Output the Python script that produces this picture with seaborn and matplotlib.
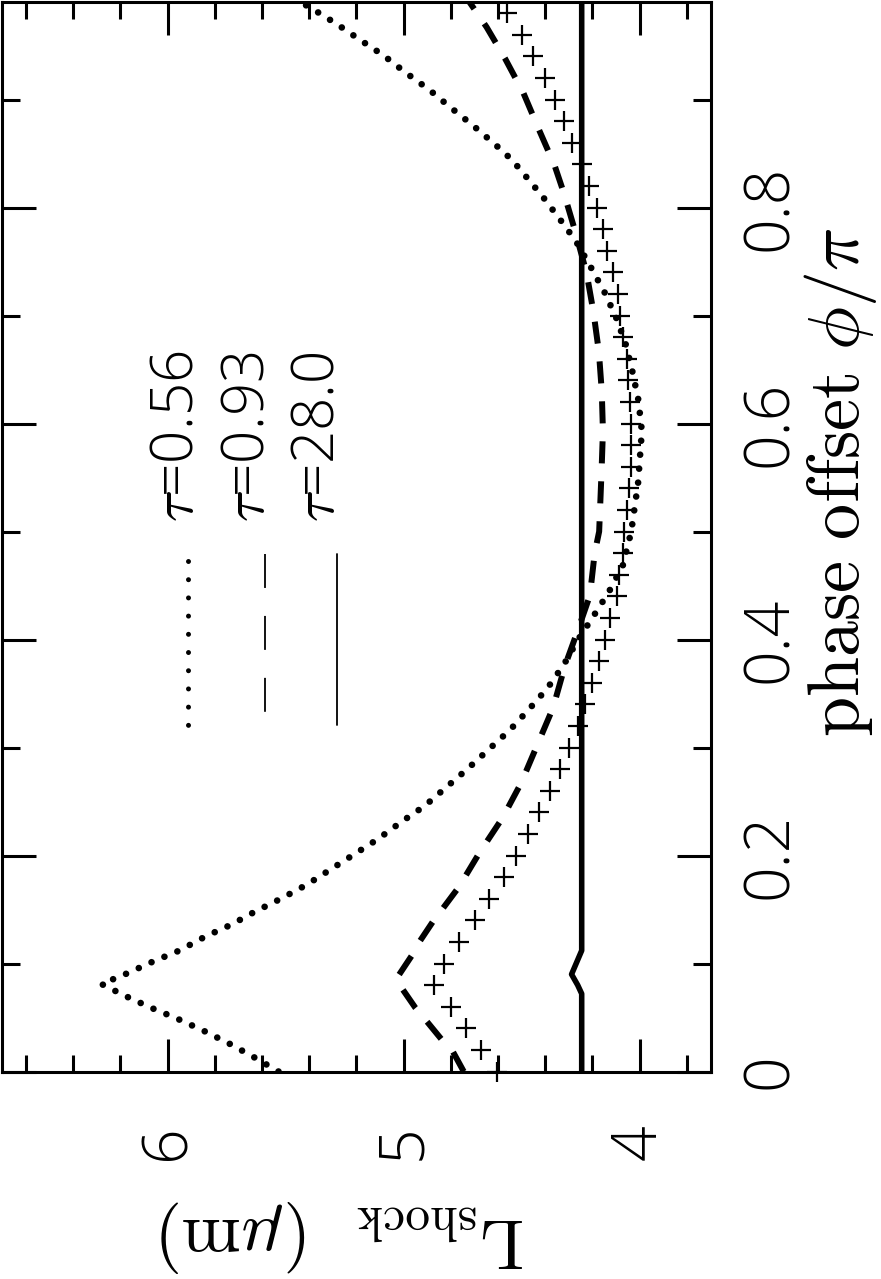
import matplotlib
matplotlib.use("Agg")
import numpy as np
import pandas as pd
import matplotlib.pyplot as plt
import seaborn as sns
from matplotlib.ticker import MultipleLocator, FuncFormatter
from matplotlib.lines import Line2D

# ---------------- data ----------------
# tau = 0.56 (dotted)
phase_056 = [0.000, 0.014, 0.026, 0.038, 0.049, 0.059, 0.070, 0.081, 0.091, 0.102,
             0.112, 0.125, 0.136, 0.148, 0.160, 0.173, 0.187, 0.201, 0.215, 0.231,
             0.246, 0.263, 0.280, 0.298, 0.316, 0.335, 0.355, 0.377, 0.400, 0.420,
             0.444, 0.469, 0.500, 0.545, 0.593, 0.622, 0.648, 0.673, 0.697, 0.721,
             0.745, 0.769, 0.789, 0.810, 0.831, 0.844, 0.858, 0.876, 0.893, 0.909,
             0.925, 0.941, 0.955, 0.970, 0.984, 0.990]
L_056 = [5.53, 5.64, 5.74, 5.85, 5.96, 6.07, 6.18, 6.28, 6.17, 6.06,
         5.95, 5.84, 5.73, 5.63, 5.52, 5.41, 5.31, 5.21, 5.11, 5.01,
         4.91, 4.82, 4.73, 4.64, 4.55, 4.47, 4.39, 4.32, 4.26, 4.20,
         4.13, 4.07, 4.035, 4.006, 3.99, 4.005, 4.03, 4.058, 4.097, 4.147,
         4.207, 4.27, 4.337, 4.41, 4.49, 4.54, 4.61, 4.706, 4.803, 4.891,
         4.992, 5.086, 5.183, 5.284, 5.387, 5.436]

# tau = 0.93 (dashed)
phase_093 = [0.000, 0.018, 0.030, 0.046, 0.059, 0.078, 0.086, 0.109, 0.121, 0.139,
             0.152, 0.171, 0.203, 0.235, 0.267, 0.302, 0.337, 0.375, 0.410, 0.441,
             0.480, 0.500, 0.555, 0.593, 0.630, 0.666, 0.703, 0.739, 0.776, 0.813,
             0.839, 0.871, 0.906, 0.938, 0.967, 0.990]
L_093 = [4.745, 4.79, 4.84, 4.90, 4.95, 5.01, 5.03, 4.96, 4.93, 4.875,
         4.83, 4.765, 4.677, 4.58, 4.502, 4.434, 4.366, 4.317, 4.259, 4.21,
         4.19, 4.171, 4.161, 4.155, 4.16, 4.172, 4.195, 4.224, 4.27, 4.32,
         4.36, 4.424, 4.492, 4.57, 4.648, 4.72]

# tau = 28.0 (solid)
phase_280 = [0.000, 0.072, 0.080, 0.090, 0.112, 0.990]
L_280 = [4.245, 4.245, 4.262, 4.288, 4.245, 4.245]

# crosses (no key entry)
phase_pts = [0.00, 0.02, 0.04, 0.06, 0.08, 0.10, 0.12, 0.14, 0.16, 0.18,
             0.20, 0.22, 0.24, 0.26, 0.28, 0.30, 0.32, 0.34, 0.36, 0.38,
             0.40, 0.42, 0.44, 0.46, 0.48, 0.50, 0.52, 0.54, 0.56, 0.58,
             0.60, 0.62, 0.64, 0.66, 0.68, 0.70, 0.72, 0.74, 0.76, 0.78,
             0.80, 0.82, 0.84, 0.86, 0.88, 0.90, 0.92, 0.94, 0.96, 0.98]
L_pts = [4.605, 4.671, 4.735, 4.80, 4.872, 4.829, 4.765, 4.696, 4.638, 4.576,
         4.525, 4.473, 4.424, 4.379, 4.337, 4.298, 4.259, 4.23, 4.20, 4.17,
         4.146, 4.123, 4.097, 4.088, 4.068, 4.065, 4.055, 4.045, 4.035, 4.035,
         4.035, 4.04, 4.05, 4.052, 4.069, 4.083, 4.09, 4.111, 4.137, 4.156,
         4.18, 4.213, 4.245, 4.288, 4.32, 4.36, 4.40, 4.453, 4.50, 4.56]

legend_labels = [r"$\tau$=0.56", r"$\tau$=0.93", r"$\tau$=28.0"]
xlabel_text = r"$\mathrm{L}_{\mathrm{shock}}\ \ (\mu\mathrm{m})$"
ylabel_text = r"$\mathrm{phase\ offset}\ \phi/\pi$"

# ---------------- style ----------------
sns.set_style("ticks")
plt.rcParams["font.family"] = ["Open Sans", "Liberation Sans", "DejaVu Sans"]
plt.rcParams["font.weight"] = "light"
plt.rcParams["mathtext.fontset"] = "cm"

W, H = 881, 1279
fig = plt.figure(figsize=(W / 100, H / 100), dpi=100)
ax_l, ax_r, ax_t, ax_b = 1.5, 711.0, 2.3, 1071.5
ax = fig.add_axes([ax_l / W, 1 - ax_b / H, (ax_r - ax_l) / W, (ax_b - ax_t) / H])

def fx(px):
    return px / W

def fy(py):
    return 1 - py / H

# curves (plot is rotated: L on horizontal axis, phase on vertical axis)
df056 = pd.DataFrame({"L": L_056, "phase": phase_056})
df093 = pd.DataFrame({"L": L_093, "phase": phase_093})
df280 = pd.DataFrame({"L": L_280, "phase": phase_280})
dfpts = pd.DataFrame({"L": L_pts, "phase": phase_pts})

sns.lineplot(data=df056, x="L", y="phase", sort=False, estimator=None,
             color="black", ax=ax)
ln = ax.lines[-1]
ln.set_linewidth(4.8)
ln.set_linestyle((0, (0.001, 2.1)))
ln.set_dash_capstyle("round")

sns.lineplot(data=df093, x="L", y="phase", sort=False, estimator=None,
             color="black", ax=ax)
ln = ax.lines[-1]
ln.set_linewidth(4.3)
ln.set_linestyle((0, (3.7, 3.0)))
ln.set_dash_capstyle("butt")

sns.lineplot(data=df280, x="L", y="phase", sort=False, estimator=None,
             color="black", ax=ax)
ln = ax.lines[-1]
ln.set_linewidth(4.0)
ln.set_solid_joinstyle("round")

sns.scatterplot(data=dfpts, x="L", y="phase", marker="+", s=210,
                color="black", linewidth=1.6, ax=ax)
ax.collections[-1].set_clip_on(False)

# axes limits / ticks
ax.set_xlim(6.704, 3.697)
ax.set_ylim(0.0, 0.99)
ax.xaxis.set_major_locator(MultipleLocator(1.0))
ax.xaxis.set_minor_locator(MultipleLocator(0.2))
ax.yaxis.set_major_locator(MultipleLocator(0.2))
ax.yaxis.set_minor_locator(MultipleLocator(0.1))
fmt = FuncFormatter(lambda v, p: f"{round(v, 2):g}")
ax.xaxis.set_major_formatter(fmt)
ax.yaxis.set_major_formatter(fmt)
ax.set_xlabel("")
ax.set_ylabel("")

ax.tick_params(axis="both", which="both", direction="in", top=True, bottom=True,
               left=True, right=True, labelleft=False, labelright=True,
               labeltop=False, labelbottom=True, width=2.2, color="black",
               labelsize=45, labelcolor="black")
ax.tick_params(axis="x", which="major", length=23.8, pad=38, labelrotation=90)
ax.tick_params(axis="x", which="minor", length=12)
ax.tick_params(axis="y", which="major", length=24.5, pad=20, labelrotation=90)
ax.tick_params(axis="y", which="minor", length=13)
for lab in ax.get_yticklabels():
    lab.set_verticalalignment("center")
for sp in ax.spines.values():
    sp.set_linewidth(2.2)
    sp.set_color("black")
    sp.set_visible(True)

# axis titles (rotated with the figure)
fig.text(fx(859), fy(482), ylabel_text, rotation=90, rotation_mode="anchor",
         ha="center", va="baseline", fontsize=52, color="black")
fig.text(fx(342), fy(1218), xlabel_text, rotation=180, rotation_mode="anchor",
         ha="center", va="baseline", fontsize=51, color="black")

# key (rotated)
key_text_x = [193, 264, 334]
for lab, bx in zip(legend_labels, key_text_x):
    fig.text(fx(bx), fy(522), lab, rotation=90, rotation_mode="anchor",
             ha="left", va="baseline", fontsize=42, color="black")

fig.add_artist(Line2D([fx(188), fx(188)], [fy(561), fy(726)], color="black",
                      lw=3.6, linestyle=(0, (0.001, 3.64)),
                      dash_capstyle="round", transform=fig.transFigure))
fig.add_artist(Line2D([fx(265), fx(265)], [fy(554), fy(716)], color="black",
                      lw=1.3, linestyle=(0, (18.8, 15.5)),
                      dash_capstyle="butt", transform=fig.transFigure))
fig.add_artist(Line2D([fx(337), fx(337)], [fy(554), fy(725)], color="black",
                      lw=1.3, transform=fig.transFigure))

fig.savefig("out.png", dpi=100)
